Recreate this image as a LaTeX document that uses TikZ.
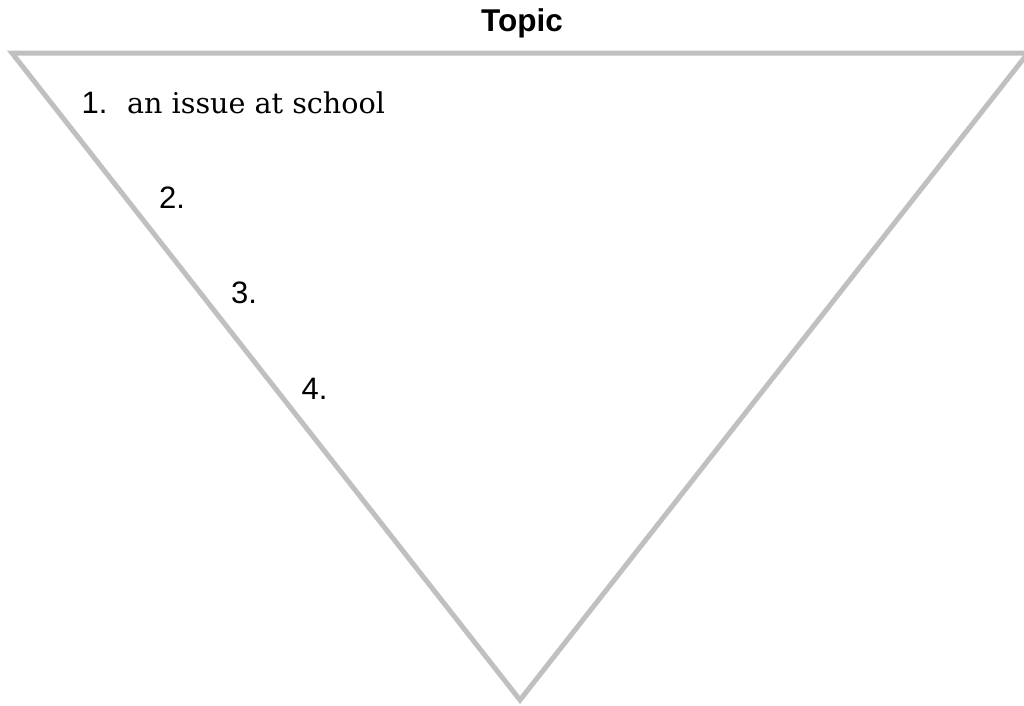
\documentclass[tikz,border=0pt]{standalone}
\usepackage{fontspec}
\setmainfont{Liberation Sans}
\newfontfamily\labelserif{DejaVu Serif}
\definecolor{edgegray}{HTML}{C0C0C0}
\tikzset{
  edge/.style={draw=edgegray, line width=5pt, line join=miter},
  numlabel/.style={anchor=base west, inner sep=0pt, font=\fontsize{31pt}{37pt}\selectfont},
  serlabel/.style={anchor=base west, inner sep=0pt, font=\labelserif\fontsize{28.6pt}{34pt}\selectfont},
  titlelabel/.style={anchor=base, inner sep=0pt, font=\bfseries\fontsize{31.5pt}{37pt}\selectfont}
}
\begin{document}
\begin{tikzpicture}[x=1pt, y=-1pt]
\useasboundingbox (0,0) rectangle (1024,705);
\clip (0,0) rectangle (1024,705);
\coordinate (tl) at (12,53);
\coordinate (tr) at (1028,53);
\coordinate (bt) at (520,700);
\draw[edge] (tl) -- (tr) -- (bt) -- cycle;
\node[titlelabel] (topic) at (522,31) {Topic};
\node[numlabel] (n1) at (81.5,113.5) {1.};
\node[serlabel] (t1) at (127,113.5) {an issue at school};
\node[numlabel] (n2) at (159,208.3) {2.};
\node[numlabel] (n3) at (231,303.5) {3.};
\node[numlabel] (n4) at (301.5,399) {4.};
\end{tikzpicture}
\end{document}
